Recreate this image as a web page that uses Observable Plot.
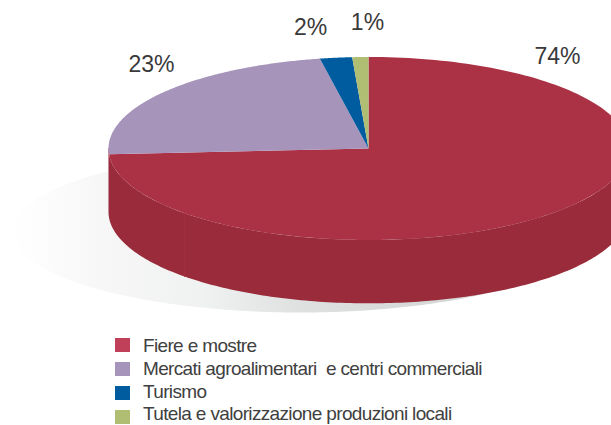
<!DOCTYPE html>
<html><head><meta charset="utf-8">
<script src="https://cdn.jsdelivr.net/npm/d3@7"></script>
<script src="https://cdn.jsdelivr.net/npm/@observablehq/plot@0.6"></script>
<style>
html,body{margin:0;padding:0;background:#fff;overflow:hidden;height:425px}
#legend{display:flex;height:94px;overflow:visible;font-family:"Liberation Sans",sans-serif;font-size:19px;letter-spacing:-.65px;color:#404040}
#swatches{margin:7px 13px 0 115px;flex:none}
.sw{width:15px;height:14px;margin-bottom:10px}
#names{margin-top:3.75px;line-height:22.9px;white-space:pre}
</style></head><body>
<div id="chart"></div><div id="legend"><div id="swatches"></div><div id="names"></div></div>
<script>
// Data
const categories = ["Fiere e mostre","Mercati agroalimentari  e centri commerciali","Turismo","Tutela e valorizzazione produzioni locali"];
const shares = [74,23,2,1];
const topColors = ["#ab3145","#a794ba","#005c9f","#afbe72"];
const swatchColors = ["#c0405a","#a794ba","#005c9f","#afbe72"];
const sideColor = "#9a2b3a";
// Label anchors, in pie radii from the centre
const labelU = [0.727,-0.835,-0.223,-0.004];
const labelV = [1.005,0.918,1.325,1.38];
const depth = 0.692;     // pie thickness, in vertical radii

const W=611,H=331,cx=368,cy=148,rx=260,ry=91.5;
const rim=(t,off=0)=>({u:Math.sin(2*Math.PI*t),v:Math.cos(2*Math.PI*t)-off});
const steps=(a,b)=>d3.range(0,181).map(i=>a+(b-a)*i/180);

let acc=0;
const slices=shares.map((s,i)=>{const a=acc/100,b=(acc+=s)/100;
  return [{u:0,v:0},...steps(a,b).map(t=>rim(t))].map(p=>({...p,k:categories[i]}));}).flat();
const wall=[...steps(.25,.75).map(t=>rim(t)),...steps(.75,.25).map(t=>rim(t,depth))];
const seam=[rim(.625),rim(.625,depth)];
const leftEdge=[rim(.75),rim(.75,depth)];
const shadow=d3.range(0,361).map(d=>({
  u:(300-cx)/rx+288/rx*Math.sin(d*Math.PI/180),
  v:(cy-231)/ry+81/ry*Math.cos(d*Math.PI/180)}));
const labels=shares.map((s,i)=>({t:s+"%",u:labelU[i],v:labelV[i]}));

const defs=()=>{const s=d3.create("svg:defs");
  const g=s.append("linearGradient").attr("id","shadowGrad");
  [[0,"#ffffff"],[.15,"#f7f7f7"],[.33,"#f0f1f1"],[.5,"#dfe0e0"],[1,"#cccdcd"]].forEach(([o,c])=>
    g.append("stop").attr("offset",o).attr("stop-color",c));
  return s.node();};

const chart=Plot.plot({
  width:W,height:H,margin:0,
  style:{background:"transparent"},
  x:{domain:[-cx/rx,(W-cx)/rx],range:[0,W],axis:null},
  y:{domain:[(cy-H)/ry,cy/ry],range:[H,0],axis:null},
  color:{domain:categories,range:topColors},
  marks:[
    defs,
    Plot.line(shadow,{x:"u",y:"v",fill:"url(#shadowGrad)",stroke:"none",curve:"linear"}),
    Plot.line(wall,{x:"u",y:"v",fill:sideColor,stroke:"none",curve:"linear"}),
    Plot.line(seam,{x:"u",y:"v",stroke:"#a22f40",strokeWidth:1}),
    Plot.line(leftEdge,{x:"u",y:"v",stroke:"#c88c98",strokeWidth:1}),
    Plot.line(slices,{x:"u",y:"v",z:"k",fill:"k",stroke:"none",curve:"linear"}),
    Plot.text(labels,{x:"u",y:"v",text:"t",fontSize:23,fontFamily:"Liberation Sans",fill:"#3a3a3a",textAnchor:"middle",letterSpacing:"-.4px"})
  ]});
document.getElementById("chart").append(chart);
chart.style.display="block";

categories.forEach((c,i)=>{
  d3.select("#swatches").append("div").attr("class","sw").style("background",swatchColors[i]);
  d3.select("#names").append("div").text(c);});
</script></body></html>
